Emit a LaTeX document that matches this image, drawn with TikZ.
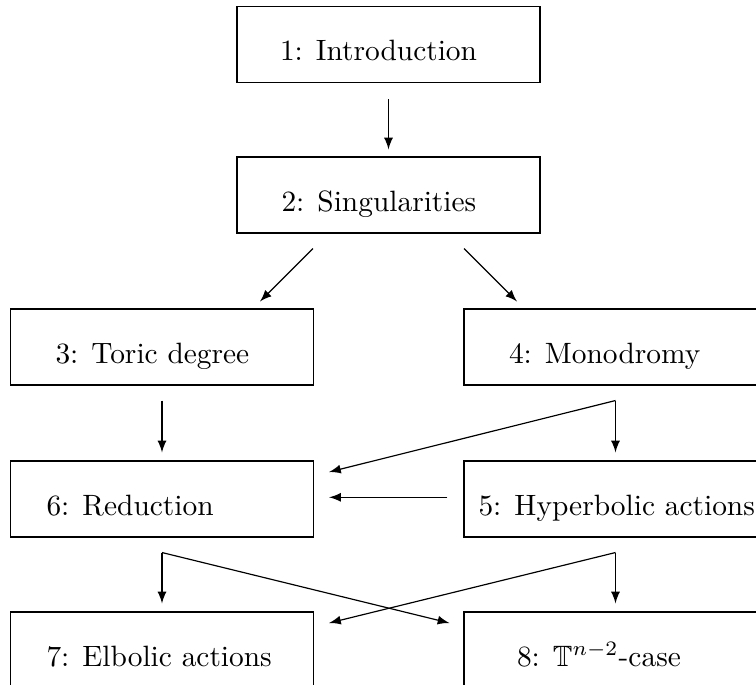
\documentclass[tikz,border=0pt]{standalone}
\usepackage{amssymb}
\usetikzlibrary{calc}
\begin{document}
\begin{tikzpicture}[x=0.34pt,y=-0.34pt,>=latex,
        box/.style={draw,minimum width=103pt,minimum height=25.8pt,inner sep=0pt},
        txt/.style={anchor=base west,inner sep=0pt}]
              \useasboundingbox (0,0) rectangle (756,685);
              \pgfmathsetmacro\l{162};
              \pgfmathsetmacro\m{388.5};
              \pgfmathsetmacro\r{615.5};
              \node[box] (intro) at (\m,44.5) {};
              \node[box] (sing) at (\m,195) {};
              \node[box] (toric) at (\l,347) {};
              \node[box] (mono) at (\r,347) {};
              \node[box] (reduc) at (\l,499) {};
              \node[box] (hyper) at (\r,499) {};
              \node[box] (elbo) at (\l,650) {};
              \node[box] (torus) at (\r,650) {};
              \node[txt] (introtext) at ($(intro.north west)+(43,55)$) {1: Introduction};
              \node[txt] (singtext) at ($(sing.north west)+(44.5,55)$) {2: Singularities};
              \node[txt] (torictext) at ($(toric.north west)+(45,55)$) {3: Toric degree};
              \node[txt] (monotext) at ($(mono.north west)+(45,55)$) {4: Monodromy};
              \node[txt] (hypertext) at ($(hyper.north west)+(14.5,55)$) {5: Hyperbolic actions};
              \node[txt] (reductext) at ($(reduc.north west)+(36,55)$) {6: Reduction};
              \node[txt] (elbotext) at ($(elbo.north west)+(36,55)$) {7: Elbolic actions};
              \node[txt] (torustext) at ($(torus.north west)+(53,55)$) {8: $\mathbb{T}^{n-2}$-case};
              \coordinate (monofork) at ($(mono.south)+(0,15)$);
              \coordinate (reducfork) at ($(reduc.south)+(0,15)$);
              \coordinate (hyperfork) at ($(hyper.south)+(0,15)$);
              \draw[->] ($(intro.south)+(0,16)$) -- ($(sing.north)+(0,-7)$);
              \draw[->] ($(sing.south)+(-75.5,15)$) -- ($(toric.north)+(98,-7)$);
              \draw[->] ($(sing.south)+(75.5,15)$) -- ($(mono.north)+(-98.5,-7)$);
              \draw[->] ($(toric.south)+(0,15)$) -- ($(reduc.north)+(0,-8)$);
              \draw[->] (monofork) -- ($(hyper.north)+(0,-8)$);
              \draw[->] (monofork) -- ($(reduc.east)+(15,-27)$);
              \draw[->] ($(hyper.west)+(-16,-1.7)$) -- ($(reduc.east)+(15,-1.7)$);
              \draw[->] (reducfork) -- ($(elbo.north)+(0,-8)$);
              \draw[->] (reducfork) -- ($(torus.west)+(-14,-27)$);
              \draw[->] (hyperfork) -- ($(torus.north)+(0,-8)$);
              \draw[->] (hyperfork) -- ($(elbo.east)+(15,-27)$);
        \end{tikzpicture}
\end{document}
